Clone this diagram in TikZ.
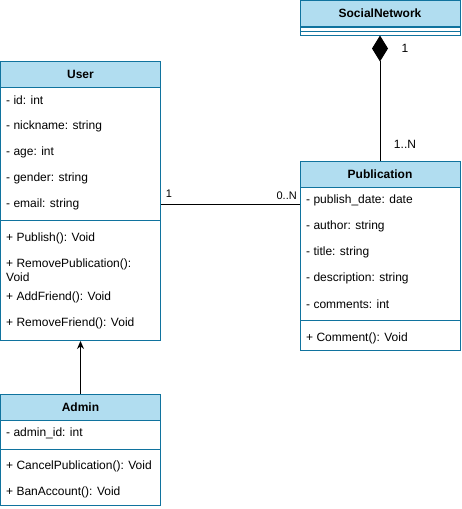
\documentclass[tikz,border=0pt]{standalone}
\usepackage{fontspec}
\setmainfont{Liberation Sans}
\usetikzlibrary{arrows.meta}
\definecolor{umlline}{HTML}{10739E}
\definecolor{umlfill}{HTML}{B1DDF0}
\tikzstyle{head}=[draw=umlline,fill=umlfill,line width=1pt,minimum width=160pt,minimum height=26pt,inner sep=0pt,font=\fontsize{12}{14}\selectfont\bfseries]
\tikzstyle{part}=[draw=umlline,line width=1pt,minimum width=160pt,inner sep=0pt,anchor=north]
\tikzstyle{item}=[anchor=west,inner sep=0pt,align=left,font=\fontsize{12}{14}\selectfont]
\tikzstyle{mult}=[inner sep=0pt,font=\fontsize{11}{13}\selectfont]
\tikzstyle{link}=[line width=1pt]

\begin{document}
\begin{tikzpicture}[x=1pt,y=-1pt]
	\useasboundingbox (0,0) rectangle (461,509);
	% SocialNetwork
	\node[head] (shead) at (380,13.5) {SocialNetwork};
	\node[part,minimum height=4pt] (sattr) at (380,26.5) {};
	\node[part,minimum height=4pt] (smeth) at (380,30.5) {};
	% User
	\node[head] (uhead) at (80.5,74) {User};
	\node[part,minimum height=133pt] (uattr) at (80.5,87) {};
	\node[part,minimum height=120pt] (umeth) at (80.5,220) {};
	\node[item] (uid) at (6,100) {- id: int};
	\node[item] (unick) at (6,126) {- nickname: string};
	\node[item] (uage) at (6,152) {- age: int};
	\node[item] (ugender) at (6,178) {- gender: string};
	\node[item] (uemail) at (6,204) {- email: string};
	\node[item] (upub) at (6,238) {+ Publish(): Void};
	\node[item] (uremp) at (6,270) {+ RemovePublication():\\Void};
	\node[item] (uaddf) at (6,297) {+ AddFriend(): Void};
	\node[item] (uremf) at (6,323) {+ RemoveFriend(): Void};
	% Publication
	\node[head] (phead) at (380,174) {Publication};
	\node[part,minimum height=133pt] (pattr) at (380,187) {};
	\node[part,minimum height=30pt] (pmeth) at (380,320) {};
	\node[item] (pdate) at (306,200) {- publish\_date: date};
	\node[item] (pauth) at (306,226) {- author: string};
	\node[item] (ptitle) at (306,252) {- title: string};
	\node[item] (pdesc) at (306,278) {- description: string};
	\node[item] (pcomm) at (306,304) {- comments: int};
	\node[item] (pcmt) at (306,338) {+ Comment(): Void};
	% Admin
	\node[head] (ahead) at (80.5,407) {Admin};
	\node[part,minimum height=29pt] (aattr) at (80.5,420) {};
	\node[part,minimum height=56pt] (ameth) at (80.5,449) {};
	\node[item] (aid) at (6,433) {- admin\_id: int};
	\node[item] (acancel) at (6,466) {+ CancelPublication(): Void};
	\node[item] (aban) at (6,492) {+ BanAccount(): Void};
	% relations
	\draw[link,-{Diamond[length=26pt,width=16pt]}] (phead.north) -- (smeth.south);
	\node[mult,font=\fontsize{12}{14}\selectfont] (sone) at (405,48) {1};
	\node[mult,font=\fontsize{12}{14}\selectfont] (smany) at (405,144) {1..N};
	\draw[link] (uattr.east |- uemail) -- (pattr.west |- uemail);
	\node[mult] (uone) at (169,194) {1};
	\node[mult,anchor=east] (pmany) at (297,196) {0..N};
	\draw[link,-{Stealth[length=8pt,width=7pt]}] (ahead.north) -- (umeth.south);
\end{tikzpicture}
\end{document}
